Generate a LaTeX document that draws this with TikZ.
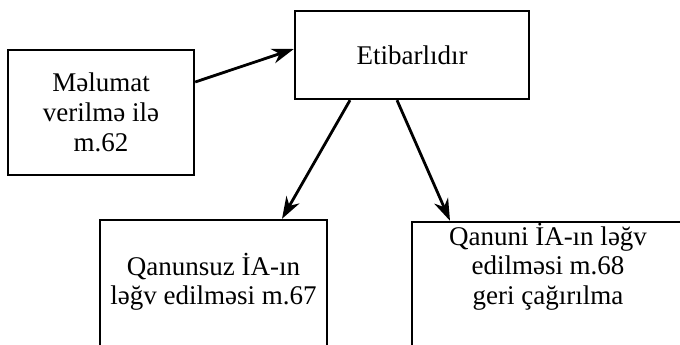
\documentclass[tikz,border=0pt]{standalone}
\usepackage{fontspec}
\setmainfont{Liberation Serif}
\usetikzlibrary{arrows.meta}
\begin{document}
\begin{tikzpicture}[x=1pt,y=-1pt,
  box/.style={draw=black,line width=2.4pt,minimum width=#1,inner sep=0pt},
  txt/.style={align=center,inner sep=0pt,font=\fontsize{27pt}{30pt}\selectfont},
  arr/.style={line width=2.8pt,-{Stealth[length=22pt,width=15pt,inset=7pt]}}]
\useasboundingbox (0,0) rectangle (680,345);
\clip (0,0) rectangle (680,345);
\node[box=186pt,minimum height=125pt] (lb) at (101,112.5) {};
\node[box=234pt,minimum height=88pt] (tb) at (412,55) {};
\node[box=227pt,minimum height=160pt] (bl) at (213.5,300) {};
\node[box=272pt,minimum height=160pt] (br) at (548,302) {};
\node[txt] (lbt) at (101,112) {Məlumat\\verilmə ilə\\m.62};
\node[txt] (tbt) at (412,55) {Etibarlıdır};
\node[txt,font=\fontsize{27pt}{29pt}\selectfont] (blt) at (213.5,282) {Qanunsuz İA-ın\\ləğv edilməsi m.67};
\node[txt,font=\fontsize{27pt}{29.5pt}\selectfont] (brt) at (548,266.5) {Qanuni İA-ın ləğv\\edilməsi m.68\\geri çağırılma};
\draw[arr] ([yshift=30.5pt]lb.east) -- ([yshift=6pt]tb.west);
\draw[arr] ([xshift=-62pt]tb.south) -- ([xshift=68.5pt]bl.north);
\draw[arr] ([xshift=-15pt]tb.south) -- ([xshift=-98pt]br.north);
\end{tikzpicture}
\end{document}
